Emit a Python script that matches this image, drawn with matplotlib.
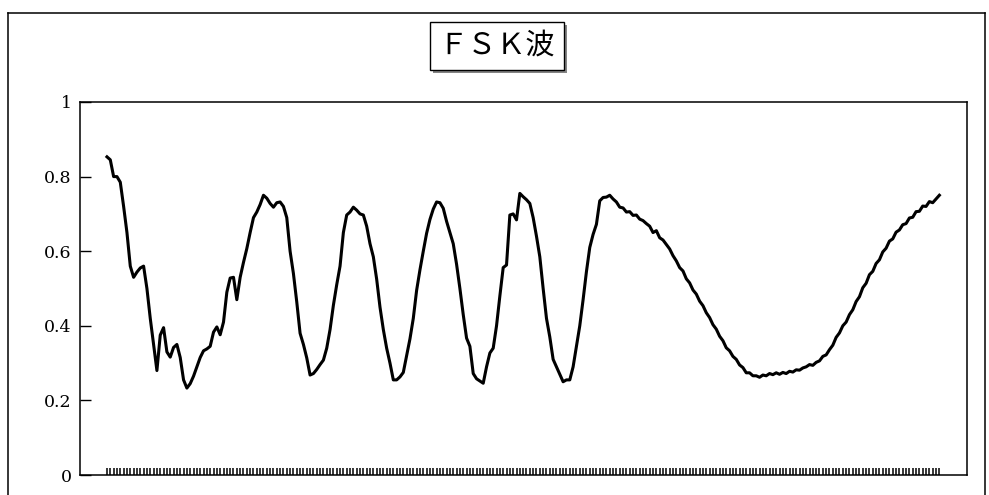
import numpy as np
import matplotlib.pyplot as plt
from matplotlib import patheffects
from matplotlib.lines import Line2D

fsk = [
    0.853, 0.845, 0.800, 0.800, 0.785, 0.720, 0.650, 0.560, 0.530, 0.544,
    0.555, 0.560, 0.500, 0.420, 0.350, 0.280, 0.375, 0.395, 0.330, 0.316,
    0.342, 0.350, 0.315, 0.255, 0.233, 0.245, 0.265, 0.290, 0.315, 0.333,
    0.338, 0.345, 0.383, 0.397, 0.376, 0.410, 0.490, 0.528, 0.530, 0.470,
    0.530, 0.570, 0.607, 0.650, 0.690, 0.705, 0.725, 0.750, 0.742, 0.728,
    0.718, 0.730, 0.732, 0.720, 0.690, 0.600, 0.540, 0.464, 0.380, 0.350,
    0.314, 0.268, 0.272, 0.283, 0.296, 0.308, 0.340, 0.390, 0.455, 0.510,
    0.560, 0.650, 0.697, 0.705, 0.718, 0.710, 0.700, 0.697, 0.667, 0.620,
    0.585, 0.525, 0.450, 0.390, 0.340, 0.300, 0.255, 0.255, 0.263, 0.275,
    0.320, 0.365, 0.420, 0.495, 0.550, 0.600, 0.648, 0.685, 0.713, 0.732,
    0.730, 0.715, 0.680, 0.650, 0.620, 0.565, 0.500, 0.430, 0.367, 0.345,
    0.272, 0.258, 0.252, 0.246, 0.290, 0.327, 0.340, 0.400, 0.480, 0.556,
    0.563, 0.697, 0.700, 0.684, 0.755, 0.746, 0.738, 0.728, 0.690, 0.640,
    0.585, 0.500, 0.420, 0.370, 0.310, 0.290, 0.270, 0.250, 0.255, 0.255,
    0.290, 0.345, 0.400, 0.470, 0.545, 0.610, 0.645, 0.672, 0.735, 0.744,
    0.745, 0.750, 0.740, 0.732, 0.718, 0.716, 0.705, 0.706, 0.696, 0.697,
    0.686, 0.682, 0.674, 0.667, 0.650, 0.655, 0.636, 0.630, 0.618, 0.606,
    0.588, 0.574, 0.556, 0.547, 0.526, 0.515, 0.496, 0.485, 0.466, 0.454,
    0.435, 0.422, 0.403, 0.391, 0.372, 0.360, 0.341, 0.333, 0.318, 0.310,
    0.295, 0.288, 0.274, 0.274, 0.266, 0.266, 0.262, 0.268, 0.266, 0.272,
    0.269, 0.274, 0.270, 0.275, 0.272, 0.278, 0.276, 0.282, 0.281, 0.287,
    0.290, 0.296, 0.294, 0.302, 0.306, 0.318, 0.322, 0.336, 0.348, 0.369,
    0.381, 0.400, 0.410, 0.430, 0.443, 0.465, 0.478, 0.502, 0.514, 0.537,
    0.546, 0.567, 0.577, 0.598, 0.608, 0.627, 0.633, 0.651, 0.657, 0.671,
    0.674, 0.689, 0.691, 0.706, 0.707, 0.721, 0.720, 0.733, 0.730, 0.740,
    0.750,
]
y_ticks = [0, 0.2, 0.4, 0.6, 0.8, 1]
y_labels = ["0", "0.2", "0.4", "0.6", "0.8", "1"]
title = "ＦＳＫ波"

x = np.arange(len(fsk))

fig = plt.figure(figsize=(9.89, 4.95), dpi=100)
ax = fig.add_axes([80 / 989, 20 / 495, 887 / 989, 373 / 495])

ax.plot(x, fsk, color="black", linewidth=2.2)

ax.set_xlim(-8.1, 258.3)
ax.set_ylim(0, 1)
ax.set_xticks(x)
ax.set_xticklabels([])
ax.set_yticks(y_ticks)
ax.set_yticklabels(y_labels, family="DejaVu Serif", fontsize=12.5)
ax.tick_params(axis="x", direction="in", length=5, width=1.1)
ax.tick_params(axis="y", direction="in", length=8, width=1, pad=6)
for sp in ax.spines.values():
    sp.set_linewidth(1.1)

# outer frame of the scanned figure
fx0, fx1, fy = 8 / 989, 985 / 989, 1 - 13 / 495
for xs, ys in [([fx0, fx1], [fy, fy]), ([fx0, fx0], [fy, 0]), ([fx1, fx1], [fy, 0])]:
    fig.add_artist(Line2D(xs, ys, color="black", linewidth=1.1))

t = fig.text(0.5025, 0.907, title, ha="center", va="center", fontsize=21,
             family=["Noto Sans CJK JP", "DejaVu Sans"],
             bbox=dict(boxstyle="square,pad=0.3", facecolor="white",
                       edgecolor="black", linewidth=1.0))
t.get_bbox_patch().set_path_effects(
    [patheffects.withSimplePatchShadow(offset=(2, -2), shadow_rgbFace="0.4", alpha=0.8)])

fig.savefig("out.png", dpi=100)
